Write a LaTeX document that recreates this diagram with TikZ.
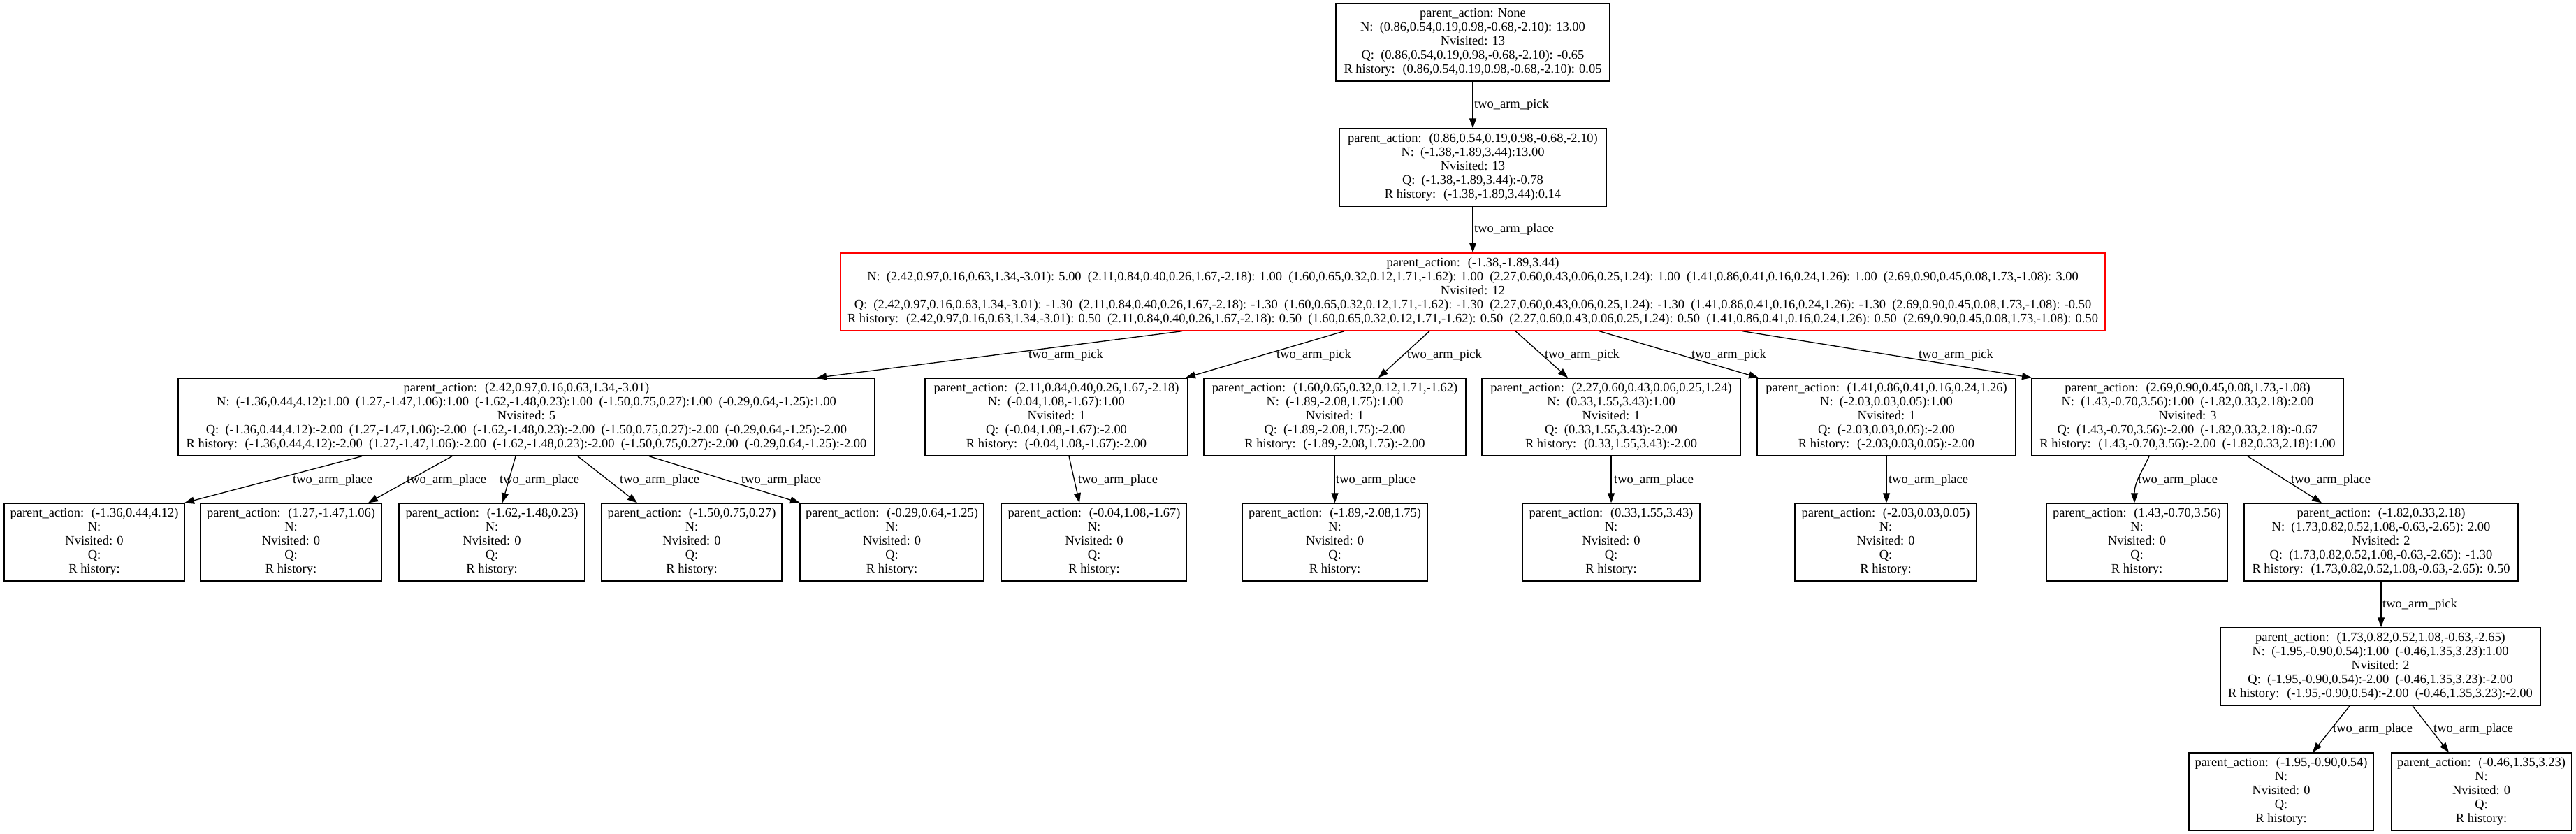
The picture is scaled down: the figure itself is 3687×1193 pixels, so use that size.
\documentclass[tikz,border=0pt]{standalone}
\usepackage{fontspec}
\setmainfont{Liberation Serif}
\usetikzlibrary{arrows.meta}
\newcommand\pa{parent\_action:~ }
\newcommand\leaftext[1]{\pa(#1)\\N:\\Nvisited: 0\\Q:\\R history:}
\tikzset{
  box/.style={draw=black, line width=1.4pt, rectangle, inner sep=0pt, minimum height=111pt, align=center, font=\fontsize{18.45}{20}\selectfont},
  redbox/.style={box, draw=red},
  bw/.style={minimum width=#1pt},
  elabel/.style={anchor=west, inner sep=0pt, font=\fontsize{18.45}{20}\selectfont},
  edge/.style={line width=1.3pt, -{Triangle[length=14pt,width=10pt]}}
}
\begin{document}
\begin{tikzpicture}[x=1pt,y=-1pt]
\fill[white] (0,0) rectangle (3687,1193);
\useasboundingbox (0,0) rectangle (3687,1193);
% level 1-2
\node[box,bw=392] (root) at (2108,60.5) {parent\_action: None\\N:~ (0.86,0.54,0.19,0.98,-0.68,-2.10): 13.00\\Nvisited: 13\\Q:~ (0.86,0.54,0.19,0.98,-0.68,-2.10): -0.65\\R history:~ (0.86,0.54,0.19,0.98,-0.68,-2.10): 0.05};
\node[box,bw=382] (n2) at (2108,239.5) {\pa(0.86,0.54,0.19,0.98,-0.68,-2.10)\\N:~ (-1.38,-1.89,3.44):13.00\\Nvisited: 13\\Q:~ (-1.38,-1.89,3.44):-0.78\\R history:~ (-1.38,-1.89,3.44):0.14};
\node[redbox,bw=1810] (n3) at (2108,417.5) {\pa(-1.38,-1.89,3.44)\\
N:~ (2.42,0.97,0.16,0.63,1.34,-3.01): 5.00~ (2.11,0.84,0.40,0.26,1.67,-2.18): 1.00~ (1.60,0.65,0.32,0.12,1.71,-1.62): 1.00~ (2.27,0.60,0.43,0.06,0.25,1.24): 1.00~ (1.41,0.86,0.41,0.16,0.24,1.26): 1.00~ (2.69,0.90,0.45,0.08,1.73,-1.08): 3.00\\
Nvisited: 12\\
Q:~ (2.42,0.97,0.16,0.63,1.34,-3.01): -1.30~ (2.11,0.84,0.40,0.26,1.67,-2.18): -1.30~ (1.60,0.65,0.32,0.12,1.71,-1.62): -1.30~ (2.27,0.60,0.43,0.06,0.25,1.24): -1.30~ (1.41,0.86,0.41,0.16,0.24,1.26): -1.30~ (2.69,0.90,0.45,0.08,1.73,-1.08): -0.50\\
R history:~ (2.42,0.97,0.16,0.63,1.34,-3.01): 0.50~ (2.11,0.84,0.40,0.26,1.67,-2.18): 0.50~ (1.60,0.65,0.32,0.12,1.71,-1.62): 0.50~ (2.27,0.60,0.43,0.06,0.25,1.24): 0.50~ (1.41,0.86,0.41,0.16,0.24,1.26): 0.50~ (2.69,0.90,0.45,0.08,1.73,-1.08): 0.50};
% level 3
\node[box,bw=997] (a) at (753.5,596.5) {\pa(2.42,0.97,0.16,0.63,1.34,-3.01)\\
N:~ (-1.36,0.44,4.12):1.00~ (1.27,-1.47,1.06):1.00~ (-1.62,-1.48,0.23):1.00~ (-1.50,0.75,0.27):1.00~ (-0.29,0.64,-1.25):1.00\\
Nvisited: 5\\
Q:~ (-1.36,0.44,4.12):-2.00~ (1.27,-1.47,1.06):-2.00~ (-1.62,-1.48,0.23):-2.00~ (-1.50,0.75,0.27):-2.00~ (-0.29,0.64,-1.25):-2.00\\
R history:~ (-1.36,0.44,4.12):-2.00~ (1.27,-1.47,1.06):-2.00~ (-1.62,-1.48,0.23):-2.00~ (-1.50,0.75,0.27):-2.00~ (-0.29,0.64,-1.25):-2.00};
\node[box,bw=376] (b) at (1512,596.5) {\pa(2.11,0.84,0.40,0.26,1.67,-2.18)\\N:~ (-0.04,1.08,-1.67):1.00\\Nvisited: 1\\Q:~ (-0.04,1.08,-1.67):-2.00\\R history:~ (-0.04,1.08,-1.67):-2.00};
\node[box,bw=375] (c) at (1910.5,596.5) {\pa(1.60,0.65,0.32,0.12,1.71,-1.62)\\N:~ (-1.89,-2.08,1.75):1.00\\Nvisited: 1\\Q:~ (-1.89,-2.08,1.75):-2.00\\R history:~ (-1.89,-2.08,1.75):-2.00};
\node[box,bw=370] (d) at (2306,596.5) {\pa(2.27,0.60,0.43,0.06,0.25,1.24)\\N:~ (0.33,1.55,3.43):1.00\\Nvisited: 1\\Q:~ (0.33,1.55,3.43):-2.00\\R history:~ (0.33,1.55,3.43):-2.00};
\node[box,bw=370] (e) at (2700,596.5) {\pa(1.41,0.86,0.41,0.16,0.24,1.26)\\N:~ (-2.03,0.03,0.05):1.00\\Nvisited: 1\\Q:~ (-2.03,0.03,0.05):-2.00\\R history:~ (-2.03,0.03,0.05):-2.00};
\node[box,bw=446] (f) at (3131,596.5) {\pa(2.69,0.90,0.45,0.08,1.73,-1.08)\\N:~ (1.43,-0.70,3.56):1.00~ (-1.82,0.33,2.18):2.00\\Nvisited: 3\\Q:~ (1.43,-0.70,3.56):-2.00~ (-1.82,0.33,2.18):-0.67\\R history:~ (1.43,-0.70,3.56):-2.00~ (-1.82,0.33,2.18):1.00};
% level 4
\node[box,bw=258] (a1) at (135,775.5) {\leaftext{-1.36,0.44,4.12}};
\node[box,bw=259] (a2) at (416.5,775.5) {\leaftext{1.27,-1.47,1.06}};
\node[box,bw=266] (a3) at (704,775.5) {\leaftext{-1.62,-1.48,0.23}};
\node[box,bw=258] (a4) at (990,775.5) {\leaftext{-1.50,0.75,0.27}};
\node[box,bw=263] (a5) at (1276.5,775.5) {\leaftext{-0.29,0.64,-1.25}};
\node[box,bw=265] (b1) at (1566,775.5) {\leaftext{-0.04,1.08,-1.67}};
\node[box,bw=265] (c1) at (1910.5,775.5) {\leaftext{-1.89,-2.08,1.75}};
\node[box,bw=254] (d1) at (2306,775.5) {\leaftext{0.33,1.55,3.43}};
\node[box,bw=260] (e1) at (2699,775.5) {\leaftext{-2.03,0.03,0.05}};
\node[box,bw=259] (f1) at (3058.5,775.5) {\leaftext{1.43,-0.70,3.56}};
\node[box,bw=392] (f2) at (3408,775.5) {\pa(-1.82,0.33,2.18)\\N:~ (1.73,0.82,0.52,1.08,-0.63,-2.65): 2.00\\Nvisited: 2\\Q:~ (1.73,0.82,0.52,1.08,-0.63,-2.65): -1.30\\R history:~ (1.73,0.82,0.52,1.08,-0.63,-2.65): 0.50};
% level 5-6
\node[box,bw=458] (g) at (3407,953.5) {\pa(1.73,0.82,0.52,1.08,-0.63,-2.65)\\N:~ (-1.95,-0.90,0.54):1.00~ (-0.46,1.35,3.23):1.00\\Nvisited: 2\\Q:~ (-1.95,-0.90,0.54):-2.00~ (-0.46,1.35,3.23):-2.00\\R history:~ (-1.95,-0.90,0.54):-2.00~ (-0.46,1.35,3.23):-2.00};
\node[box,bw=264] (h1) at (3265,1132.5) {\leaftext{-1.95,-0.90,0.54}};
\node[box,bw=258] (h2) at (3551.5,1132.5) {\leaftext{-0.46,1.35,3.23}};
% edges
\draw[edge] (root.south) -- (n2.north);
\draw[edge] (n2.south) -- (n3.north);
\draw[edge] ([xshift=-416pt]n3.south) -- ([xshift=415.5pt]a.north);
\draw[edge] ([xshift=-184pt]n3.south) -- ([xshift=185pt]b.north);
\draw[edge] ([xshift=-62pt]n3.south) -- ([xshift=62.5pt]c.north);
\draw[edge] ([xshift=61pt]n3.south) -- ([xshift=-62pt]d.north);
\draw[edge] ([xshift=181pt]n3.south) -- ([xshift=-183pt]e.north);
\draw[edge] ([xshift=386pt]n3.south) -- ([xshift=-223pt]f.north);
\draw[edge] ([xshift=-235.5pt]a.south) -- ([xshift=129pt]a1.north);
\draw[edge] ([xshift=-106.5pt]a.south) -- ([xshift=110.5pt]a2.north);
\draw[edge] ([xshift=-15.5pt]a.south) -- ([xshift=15pt]a3.north);
\draw[edge] ([xshift=73.5pt]a.south) -- ([xshift=-78pt]a4.north);
\draw[edge] ([xshift=175.5pt]a.south) -- ([xshift=-131.5pt]a5.north);
\draw[edge] ([xshift=18pt]b.south) -- ([xshift=-21pt]b1.north);
\draw[edge] (c.south) -- (c1.north);
\draw[edge] (d.south) -- (d1.north);
\draw[edge] (e.south) -- ([xshift=1pt]e1.north);
\draw[edge] ([xshift=-55pt]f.south) .. controls +(-10,22) and +(0,-30) .. ([xshift=-3.5pt]f1.north);
\draw[edge] ([xshift=86pt]f.south) -- ([xshift=-85pt]f2.north);
\draw[edge] (f2.south) -- ([xshift=1pt]g.north);
\draw[edge] ([xshift=-44pt]g.south) -- ([xshift=45pt]h1.north);
\draw[edge] ([xshift=46pt]g.south) -- ([xshift=-46.5pt]h2.north);
% edge labels
\node[elabel] (l1) at (2110,150) {two\_arm\_pick};
\node[elabel] (l2) at (2110,328) {two\_arm\_place};
\node[elabel] (l3) at (1472,508) {two\_arm\_pick};
\node[elabel] (l4) at (1827,508) {two\_arm\_pick};
\node[elabel] (l5) at (2014,508) {two\_arm\_pick};
\node[elabel] (l6) at (2211,508) {two\_arm\_pick};
\node[elabel] (l7) at (2421,508) {two\_arm\_pick};
\node[elabel] (l8) at (2746,508) {two\_arm\_pick};
\node[elabel] (l9) at (419,687) {two\_arm\_place};
\node[elabel] (l10) at (582,687) {two\_arm\_place};
\node[elabel] (l11) at (715,687) {two\_arm\_place};
\node[elabel] (l12) at (887,687) {two\_arm\_place};
\node[elabel] (l13) at (1061,687) {two\_arm\_place};
\node[elabel] (l14) at (1543,687) {two\_arm\_place};
\node[elabel] (l15) at (1912,687) {two\_arm\_place};
\node[elabel] (l16) at (2310,687) {two\_arm\_place};
\node[elabel] (l17) at (2703,687) {two\_arm\_place};
\node[elabel] (l18) at (3060,687) {two\_arm\_place};
\node[elabel] (l19) at (3279,687) {two\_arm\_place};
\node[elabel] (l20) at (3410,865) {two\_arm\_pick};
\node[elabel] (l21) at (3339,1043) {two\_arm\_place};
\node[elabel] (l22) at (3483,1043) {two\_arm\_place};
\end{tikzpicture}
\end{document}
